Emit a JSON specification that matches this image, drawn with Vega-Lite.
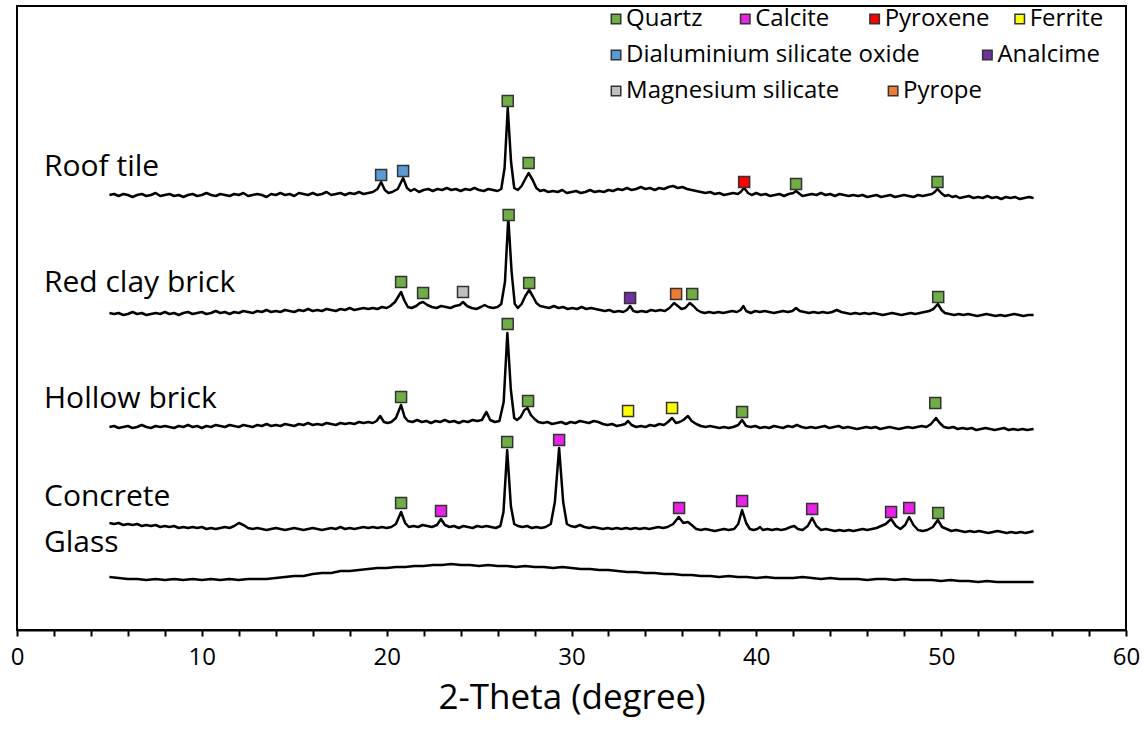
{
"$schema": "https://vega.github.io/schema/vega-lite/v6.json",
"width": 1109, "height": 624,
"autosize": {"type": "none"},
"padding": {"left": 17, "top": 6, "right": 19, "bottom": 112},
"background": "white",
"config": {"view": {"stroke": "black", "strokeWidth": 2}, "font": "Open Sans"},
"datasets": {
"roof": [
{"x":5,"y":435},{"x":5.25,"y":436},{"x":5.5,"y":434},{"x":5.75,"y":436},{"x":6,"y":435},{"x":6.25,"y":433},{"x":6.5,"y":435},{"x":6.75,"y":436},{"x":7,"y":434},{"x":7.25,"y":435},{"x":7.5,"y":437},{"x":7.75,"y":434},{"x":8,"y":435},{"x":8.25,"y":436},{"x":8.5,"y":434},{"x":8.75,"y":435},{"x":9,"y":433},{"x":9.25,"y":435},{"x":9.5,"y":436},{"x":9.75,"y":434},{"x":10,"y":435},{"x":10.25,"y":437},{"x":10.5,"y":435},{"x":10.75,"y":434},{"x":11,"y":436},{"x":11.25,"y":435},{"x":11.5,"y":434},{"x":11.75,"y":436},{"x":12,"y":435},{"x":12.25,"y":437},{"x":12.5,"y":434},{"x":12.75,"y":435},{"x":13,"y":436},{"x":13.25,"y":435},{"x":13.5,"y":433},{"x":13.75,"y":436},{"x":14,"y":435},{"x":14.25,"y":437},{"x":14.5,"y":435},{"x":14.75,"y":436},{"x":15,"y":434},{"x":15.25,"y":437},{"x":15.5,"y":436},{"x":15.75,"y":435},{"x":16,"y":437},{"x":16.25,"y":435},{"x":16.5,"y":436},{"x":16.75,"y":438},{"x":17,"y":435},{"x":17.25,"y":436},{"x":17.5,"y":437},{"x":17.75,"y":435},{"x":18,"y":437},{"x":18.25,"y":436},{"x":18.5,"y":438},{"x":18.75,"y":436},{"x":19,"y":437},{"x":19.25,"y":438},{"x":19.5,"y":441},{"x":19.7,"y":448},{"x":19.9,"y":440},{"x":20.1,"y":437},{"x":20.3,"y":438},{"x":20.6,"y":441},{"x":20.89,"y":452},{"x":21.1,"y":442},{"x":21.3,"y":439},{"x":21.5,"y":441},{"x":21.75,"y":438},{"x":22,"y":440},{"x":22.25,"y":441},{"x":22.5,"y":439},{"x":22.75,"y":441},{"x":23,"y":440},{"x":23.25,"y":442},{"x":23.5,"y":440},{"x":23.75,"y":441},{"x":24,"y":439},{"x":24.25,"y":441},{"x":24.5,"y":440},{"x":24.75,"y":442},{"x":25,"y":440},{"x":25.25,"y":439},{"x":25.5,"y":441},{"x":25.75,"y":440},{"x":26,"y":439},{"x":26.2,"y":441},{"x":26.38,"y":462},{"x":26.55,"y":522},{"x":26.73,"y":468},{"x":26.9,"y":442},{"x":27.1,"y":440},{"x":27.3,"y":444},{"x":27.5,"y":451},{"x":27.68,"y":457},{"x":27.9,"y":450},{"x":28.1,"y":442},{"x":28.3,"y":439},{"x":28.5,"y":440},{"x":28.75,"y":438},{"x":29,"y":439},{"x":29.25,"y":438},{"x":29.5,"y":440},{"x":29.75,"y":437},{"x":30,"y":438},{"x":30.25,"y":439},{"x":30.5,"y":437},{"x":30.75,"y":438},{"x":31,"y":440},{"x":31.25,"y":438},{"x":31.5,"y":439},{"x":31.75,"y":438},{"x":32,"y":440},{"x":32.25,"y":439},{"x":32.5,"y":441},{"x":32.75,"y":440},{"x":33,"y":442},{"x":33.25,"y":440},{"x":33.5,"y":441},{"x":33.75,"y":443},{"x":34,"y":441},{"x":34.25,"y":442},{"x":34.5,"y":440},{"x":34.75,"y":442},{"x":35,"y":441},{"x":35.25,"y":443},{"x":35.5,"y":444},{"x":35.75,"y":442},{"x":36,"y":443},{"x":36.25,"y":441},{"x":36.5,"y":440},{"x":36.75,"y":439},{"x":37,"y":438},{"x":37.25,"y":437},{"x":37.5,"y":438},{"x":37.75,"y":436},{"x":38,"y":437},{"x":38.25,"y":435},{"x":38.5,"y":436},{"x":38.75,"y":437},{"x":39,"y":436},{"x":39.15,"y":438},{"x":39.34,"y":442},{"x":39.55,"y":437},{"x":39.75,"y":435},{"x":40,"y":437},{"x":40.25,"y":435},{"x":40.5,"y":436},{"x":40.75,"y":434},{"x":41,"y":435},{"x":41.25,"y":436},{"x":41.5,"y":434},{"x":41.75,"y":436},{"x":42,"y":437},{"x":42.15,"y":439},{"x":42.35,"y":436},{"x":42.5,"y":434},{"x":42.75,"y":435},{"x":43,"y":436},{"x":43.25,"y":435},{"x":43.5,"y":437},{"x":43.75,"y":435},{"x":44,"y":436},{"x":44.25,"y":434},{"x":44.5,"y":436},{"x":44.75,"y":435},{"x":45,"y":434},{"x":45.25,"y":435},{"x":45.5,"y":434},{"x":45.75,"y":435},{"x":46,"y":433},{"x":46.25,"y":434},{"x":46.5,"y":435},{"x":46.75,"y":433},{"x":47,"y":434},{"x":47.25,"y":435},{"x":47.5,"y":433},{"x":47.75,"y":434},{"x":48,"y":435},{"x":48.25,"y":434},{"x":48.5,"y":433},{"x":48.75,"y":435},{"x":49,"y":434},{"x":49.25,"y":435},{"x":49.5,"y":436},{"x":49.65,"y":438},{"x":49.8,"y":441},{"x":50,"y":437},{"x":50.2,"y":434},{"x":50.4,"y":435},{"x":50.6,"y":433},{"x":50.8,"y":434},{"x":51,"y":432},{"x":51.25,"y":433},{"x":51.5,"y":434},{"x":51.75,"y":432},{"x":52,"y":433},{"x":52.25,"y":432},{"x":52.5,"y":434},{"x":52.75,"y":432},{"x":53,"y":433},{"x":53.25,"y":431},{"x":53.5,"y":433},{"x":53.75,"y":432},{"x":54,"y":433},{"x":54.25,"y":431},{"x":54.5,"y":432},{"x":54.75,"y":433},{"x":55,"y":432}
],
"red": [
{"x":5,"y":317},{"x":5.25,"y":316},{"x":5.5,"y":317},{"x":5.75,"y":315},{"x":6,"y":316},{"x":6.25,"y":318},{"x":6.5,"y":316},{"x":6.75,"y":317},{"x":7,"y":315},{"x":7.25,"y":316},{"x":7.5,"y":317},{"x":7.75,"y":316},{"x":8,"y":318},{"x":8.25,"y":316},{"x":8.5,"y":317},{"x":8.75,"y":315},{"x":9,"y":317},{"x":9.25,"y":318},{"x":9.5,"y":316},{"x":9.75,"y":317},{"x":10,"y":318},{"x":10.25,"y":316},{"x":10.5,"y":317},{"x":10.75,"y":319},{"x":11,"y":317},{"x":11.25,"y":318},{"x":11.5,"y":316},{"x":11.75,"y":318},{"x":12,"y":317},{"x":12.25,"y":319},{"x":12.5,"y":318},{"x":12.75,"y":317},{"x":13,"y":319},{"x":13.25,"y":318},{"x":13.5,"y":320},{"x":13.75,"y":318},{"x":14,"y":319},{"x":14.25,"y":318},{"x":14.5,"y":320},{"x":14.75,"y":319},{"x":15,"y":318},{"x":15.25,"y":320},{"x":15.5,"y":319},{"x":15.75,"y":321},{"x":16,"y":319},{"x":16.25,"y":320},{"x":16.5,"y":319},{"x":16.75,"y":321},{"x":17,"y":320},{"x":17.25,"y":319},{"x":17.5,"y":321},{"x":17.75,"y":320},{"x":18,"y":322},{"x":18.25,"y":320},{"x":18.5,"y":321},{"x":18.75,"y":322},{"x":19,"y":321},{"x":19.25,"y":322},{"x":19.5,"y":321},{"x":19.75,"y":323},{"x":20,"y":322},{"x":20.2,"y":324},{"x":20.45,"y":328},{"x":20.78,"y":338},{"x":20.97,"y":329},{"x":21.15,"y":323},{"x":21.35,"y":322},{"x":21.6,"y":324},{"x":21.8,"y":327},{"x":21.97,"y":328},{"x":22.2,"y":325},{"x":22.45,"y":323},{"x":22.7,"y":322},{"x":22.95,"y":324},{"x":23.2,"y":323},{"x":23.45,"y":322},{"x":23.7,"y":324},{"x":23.95,"y":325},{"x":24.13,"y":328},{"x":24.35,"y":324},{"x":24.6,"y":322},{"x":24.85,"y":321},{"x":25.1,"y":323},{"x":25.3,"y":325},{"x":25.5,"y":323},{"x":25.75,"y":322},{"x":26,"y":323},{"x":26.2,"y":326},{"x":26.4,"y":348},{"x":26.58,"y":412},{"x":26.76,"y":358},{"x":26.93,"y":326},{"x":27.1,"y":322},{"x":27.3,"y":326},{"x":27.5,"y":334},{"x":27.71,"y":340},{"x":27.9,"y":334},{"x":28.1,"y":327},{"x":28.3,"y":324},{"x":28.55,"y":323},{"x":28.8,"y":322},{"x":29.05,"y":324},{"x":29.3,"y":322},{"x":29.55,"y":323},{"x":29.8,"y":321},{"x":30.05,"y":322},{"x":30.3,"y":321},{"x":30.55,"y":323},{"x":30.8,"y":321},{"x":31.05,"y":322},{"x":31.3,"y":321},{"x":31.55,"y":320},{"x":31.8,"y":319},{"x":32.05,"y":320},{"x":32.3,"y":318},{"x":32.55,"y":319},{"x":32.8,"y":318},{"x":33,"y":320},{"x":33.17,"y":324},{"x":33.35,"y":319},{"x":33.55,"y":318},{"x":33.8,"y":319},{"x":34.05,"y":318},{"x":34.3,"y":320},{"x":34.55,"y":319},{"x":34.8,"y":320},{"x":35.05,"y":319},{"x":35.3,"y":322},{"x":35.55,"y":327},{"x":35.75,"y":324},{"x":35.95,"y":321},{"x":36.15,"y":322},{"x":36.4,"y":327},{"x":36.6,"y":324},{"x":36.8,"y":320},{"x":37,"y":318},{"x":37.2,"y":317},{"x":37.45,"y":318},{"x":37.7,"y":317},{"x":37.95,"y":318},{"x":38.2,"y":317},{"x":38.45,"y":318},{"x":38.7,"y":319},{"x":38.95,"y":318},{"x":39.15,"y":320},{"x":39.3,"y":324},{"x":39.45,"y":319},{"x":39.7,"y":317},{"x":39.95,"y":319},{"x":40.2,"y":318},{"x":40.45,"y":319},{"x":40.7,"y":318},{"x":40.95,"y":317},{"x":41.2,"y":318},{"x":41.45,"y":319},{"x":41.7,"y":318},{"x":41.95,"y":319},{"x":42.15,"y":322},{"x":42.35,"y":319},{"x":42.6,"y":318},{"x":42.85,"y":317},{"x":43.1,"y":318},{"x":43.35,"y":317},{"x":43.6,"y":318},{"x":43.85,"y":317},{"x":44.1,"y":318},{"x":44.35,"y":320},{"x":44.6,"y":318},{"x":44.85,"y":317},{"x":45.1,"y":316},{"x":45.35,"y":317},{"x":45.6,"y":316},{"x":45.85,"y":317},{"x":46.1,"y":316},{"x":46.35,"y":317},{"x":46.6,"y":316},{"x":46.85,"y":315},{"x":47.1,"y":316},{"x":47.35,"y":317},{"x":47.6,"y":316},{"x":47.85,"y":315},{"x":48.1,"y":316},{"x":48.35,"y":317},{"x":48.6,"y":316},{"x":48.85,"y":317},{"x":49.1,"y":318},{"x":49.35,"y":319},{"x":49.58,"y":321},{"x":49.82,"y":326},{"x":50.02,"y":320},{"x":50.2,"y":317},{"x":50.45,"y":316},{"x":50.7,"y":315},{"x":50.95,"y":316},{"x":51.2,"y":315},{"x":51.45,"y":316},{"x":51.7,"y":315},{"x":51.95,"y":314},{"x":52.2,"y":315},{"x":52.45,"y":316},{"x":52.7,"y":315},{"x":52.95,"y":314},{"x":53.2,"y":315},{"x":53.45,"y":314},{"x":53.7,"y":315},{"x":53.95,"y":316},{"x":54.2,"y":315},{"x":54.45,"y":314},{"x":54.7,"y":315},{"x":55,"y":315}
],
"hollow": [
{"x":5,"y":203},{"x":5.25,"y":204},{"x":5.5,"y":202},{"x":5.75,"y":203},{"x":6,"y":204},{"x":6.25,"y":202},{"x":6.5,"y":203},{"x":6.75,"y":205},{"x":7,"y":203},{"x":7.25,"y":202},{"x":7.5,"y":204},{"x":7.75,"y":203},{"x":8,"y":204},{"x":8.25,"y":203},{"x":8.5,"y":202},{"x":8.75,"y":204},{"x":9,"y":203},{"x":9.25,"y":205},{"x":9.5,"y":203},{"x":9.75,"y":204},{"x":10,"y":202},{"x":10.25,"y":204},{"x":10.5,"y":203},{"x":10.75,"y":205},{"x":11,"y":204},{"x":11.25,"y":203},{"x":11.5,"y":205},{"x":11.75,"y":204},{"x":12,"y":203},{"x":12.25,"y":205},{"x":12.5,"y":204},{"x":12.75,"y":203},{"x":13,"y":205},{"x":13.25,"y":204},{"x":13.5,"y":206},{"x":13.75,"y":204},{"x":14,"y":205},{"x":14.25,"y":204},{"x":14.5,"y":206},{"x":14.75,"y":205},{"x":15,"y":204},{"x":15.25,"y":206},{"x":15.5,"y":205},{"x":15.75,"y":207},{"x":16,"y":205},{"x":16.25,"y":206},{"x":16.5,"y":205},{"x":16.75,"y":207},{"x":17,"y":206},{"x":17.25,"y":205},{"x":17.5,"y":207},{"x":17.75,"y":206},{"x":18,"y":207},{"x":18.25,"y":206},{"x":18.5,"y":208},{"x":18.75,"y":207},{"x":19,"y":208},{"x":19.25,"y":207},{"x":19.45,"y":209},{"x":19.65,"y":214},{"x":19.85,"y":208},{"x":20.05,"y":207},{"x":20.25,"y":208},{"x":20.5,"y":212},{"x":20.78,"y":225},{"x":20.97,"y":213},{"x":21.15,"y":209},{"x":21.4,"y":208},{"x":21.65,"y":210},{"x":21.9,"y":208},{"x":22.15,"y":209},{"x":22.4,"y":207},{"x":22.65,"y":209},{"x":22.9,"y":208},{"x":23.15,"y":210},{"x":23.4,"y":208},{"x":23.65,"y":209},{"x":23.9,"y":207},{"x":24.15,"y":209},{"x":24.4,"y":208},{"x":24.65,"y":210},{"x":24.9,"y":209},{"x":25.15,"y":210},{"x":25.4,"y":218},{"x":25.6,"y":210},{"x":25.85,"y":208},{"x":26.1,"y":209},{"x":26.33,"y":228},{"x":26.53,"y":297},{"x":26.72,"y":240},{"x":26.9,"y":212},{"x":27.05,"y":210},{"x":27.25,"y":213},{"x":27.45,"y":220},{"x":27.62,"y":222},{"x":27.8,"y":215},{"x":28,"y":211},{"x":28.2,"y":208},{"x":28.45,"y":207},{"x":28.7,"y":208},{"x":28.95,"y":206},{"x":29.2,"y":207},{"x":29.45,"y":208},{"x":29.7,"y":206},{"x":29.95,"y":208},{"x":30.2,"y":207},{"x":30.45,"y":209},{"x":30.7,"y":208},{"x":30.95,"y":207},{"x":31.2,"y":209},{"x":31.45,"y":208},{"x":31.7,"y":206},{"x":31.95,"y":205},{"x":32.2,"y":206},{"x":32.45,"y":204},{"x":32.7,"y":205},{"x":32.9,"y":206},{"x":33.06,"y":209},{"x":33.25,"y":205},{"x":33.5,"y":203},{"x":33.75,"y":204},{"x":34,"y":203},{"x":34.25,"y":205},{"x":34.5,"y":204},{"x":34.75,"y":206},{"x":35,"y":205},{"x":35.22,"y":208},{"x":35.44,"y":212},{"x":35.65,"y":207},{"x":35.85,"y":208},{"x":36.05,"y":210},{"x":36.3,"y":214},{"x":36.5,"y":209},{"x":36.75,"y":206},{"x":37,"y":204},{"x":37.25,"y":203},{"x":37.5,"y":204},{"x":37.75,"y":203},{"x":38,"y":202},{"x":38.25,"y":203},{"x":38.5,"y":202},{"x":38.75,"y":203},{"x":39.02,"y":205},{"x":39.23,"y":210},{"x":39.45,"y":204},{"x":39.7,"y":203},{"x":39.95,"y":204},{"x":40.2,"y":202},{"x":40.45,"y":203},{"x":40.7,"y":202},{"x":40.95,"y":204},{"x":41.2,"y":203},{"x":41.45,"y":202},{"x":41.7,"y":204},{"x":41.95,"y":203},{"x":42.2,"y":205},{"x":42.45,"y":203},{"x":42.7,"y":202},{"x":42.95,"y":203},{"x":43.2,"y":202},{"x":43.45,"y":203},{"x":43.7,"y":204},{"x":43.95,"y":202},{"x":44.2,"y":203},{"x":44.45,"y":204},{"x":44.7,"y":202},{"x":44.95,"y":203},{"x":45.2,"y":202},{"x":45.45,"y":201},{"x":45.7,"y":202},{"x":45.95,"y":203},{"x":46.2,"y":202},{"x":46.45,"y":203},{"x":46.7,"y":201},{"x":46.95,"y":202},{"x":47.2,"y":203},{"x":47.45,"y":202},{"x":47.7,"y":201},{"x":47.95,"y":202},{"x":48.2,"y":203},{"x":48.45,"y":202},{"x":48.7,"y":203},{"x":48.95,"y":204},{"x":49.2,"y":203},{"x":49.45,"y":206},{"x":49.72,"y":212},{"x":49.92,"y":207},{"x":50.15,"y":203},{"x":50.4,"y":202},{"x":50.65,"y":203},{"x":50.9,"y":201},{"x":51.15,"y":202},{"x":51.4,"y":201},{"x":51.65,"y":202},{"x":51.9,"y":200},{"x":52.15,"y":201},{"x":52.4,"y":202},{"x":52.65,"y":201},{"x":52.9,"y":200},{"x":53.15,"y":201},{"x":53.4,"y":202},{"x":53.65,"y":200},{"x":53.9,"y":201},{"x":54.15,"y":200},{"x":54.4,"y":201},{"x":54.65,"y":200},{"x":55,"y":201}
],
"concrete": [
{"x":5,"y":107},{"x":5.25,"y":106},{"x":5.5,"y":107},{"x":5.75,"y":105},{"x":6,"y":106},{"x":6.25,"y":105},{"x":6.5,"y":106},{"x":6.75,"y":104},{"x":7,"y":105},{"x":7.25,"y":104},{"x":7.5,"y":105},{"x":7.75,"y":103},{"x":8,"y":104},{"x":8.25,"y":103},{"x":8.5,"y":104},{"x":8.75,"y":102},{"x":9,"y":103},{"x":9.25,"y":102},{"x":9.5,"y":103},{"x":9.75,"y":102},{"x":10,"y":103},{"x":10.25,"y":101},{"x":10.5,"y":102},{"x":10.75,"y":101},{"x":11,"y":102},{"x":11.25,"y":103},{"x":11.5,"y":102},{"x":11.75,"y":104},{"x":12,"y":107},{"x":12.25,"y":105},{"x":12.5,"y":102},{"x":12.75,"y":101},{"x":13,"y":102},{"x":13.25,"y":101},{"x":13.5,"y":100},{"x":13.75,"y":101},{"x":14,"y":102},{"x":14.25,"y":101},{"x":14.5,"y":100},{"x":14.75,"y":101},{"x":15,"y":102},{"x":15.25,"y":101},{"x":15.5,"y":100},{"x":15.75,"y":101},{"x":16,"y":102},{"x":16.25,"y":101},{"x":16.5,"y":100},{"x":16.75,"y":101},{"x":17,"y":102},{"x":17.25,"y":101},{"x":17.5,"y":103},{"x":17.75,"y":101},{"x":18,"y":102},{"x":18.25,"y":101},{"x":18.5,"y":102},{"x":18.75,"y":103},{"x":19,"y":102},{"x":19.25,"y":103},{"x":19.5,"y":102},{"x":19.75,"y":103},{"x":20,"y":102},{"x":20.25,"y":103},{"x":20.5,"y":106},{"x":20.78,"y":118},{"x":21,"y":107},{"x":21.2,"y":103},{"x":21.45,"y":104},{"x":21.7,"y":103},{"x":21.95,"y":105},{"x":22.2,"y":104},{"x":22.45,"y":103},{"x":22.72,"y":105},{"x":22.94,"y":111},{"x":23.15,"y":105},{"x":23.4,"y":103},{"x":23.65,"y":104},{"x":23.9,"y":102},{"x":24.15,"y":104},{"x":24.4,"y":103},{"x":24.65,"y":102},{"x":24.9,"y":104},{"x":25.15,"y":103},{"x":25.4,"y":104},{"x":25.65,"y":103},{"x":25.9,"y":102},{"x":26.15,"y":104},{"x":26.32,"y":118},{"x":26.52,"y":180},{"x":26.72,"y":124},{"x":26.9,"y":106},{"x":27.1,"y":104},{"x":27.35,"y":103},{"x":27.6,"y":104},{"x":27.85,"y":102},{"x":28.1,"y":103},{"x":28.35,"y":102},{"x":28.6,"y":103},{"x":28.88,"y":106},{"x":29.1,"y":128},{"x":29.33,"y":182},{"x":29.55,"y":128},{"x":29.75,"y":106},{"x":29.95,"y":104},{"x":30.2,"y":103},{"x":30.45,"y":105},{"x":30.7,"y":103},{"x":30.95,"y":102},{"x":31.2,"y":103},{"x":31.45,"y":102},{"x":31.7,"y":101},{"x":31.95,"y":102},{"x":32.2,"y":101},{"x":32.45,"y":102},{"x":32.7,"y":101},{"x":32.95,"y":102},{"x":33.2,"y":101},{"x":33.45,"y":102},{"x":33.7,"y":101},{"x":33.95,"y":102},{"x":34.2,"y":101},{"x":34.45,"y":102},{"x":34.7,"y":103},{"x":34.95,"y":102},{"x":35.2,"y":103},{"x":35.5,"y":106},{"x":35.8,"y":113},{"x":36.05,"y":107},{"x":36.3,"y":108},{"x":36.5,"y":105},{"x":36.75,"y":101},{"x":37,"y":100},{"x":37.25,"y":101},{"x":37.5,"y":100},{"x":37.75,"y":99},{"x":38,"y":100},{"x":38.25,"y":101},{"x":38.5,"y":100},{"x":38.8,"y":101},{"x":39.02,"y":106},{"x":39.23,"y":120},{"x":39.45,"y":107},{"x":39.65,"y":101},{"x":39.85,"y":100},{"x":40.05,"y":101},{"x":40.2,"y":103},{"x":40.35,"y":100},{"x":40.6,"y":101},{"x":40.85,"y":100},{"x":41.1,"y":101},{"x":41.35,"y":100},{"x":41.6,"y":101},{"x":41.85,"y":103},{"x":42.05,"y":104},{"x":42.25,"y":101},{"x":42.5,"y":100},{"x":42.78,"y":104},{"x":43.02,"y":112},{"x":43.25,"y":104},{"x":43.5,"y":100},{"x":43.75,"y":101},{"x":44,"y":100},{"x":44.25,"y":99},{"x":44.5,"y":100},{"x":44.75,"y":99},{"x":45,"y":100},{"x":45.25,"y":99},{"x":45.5,"y":100},{"x":45.75,"y":101},{"x":46,"y":100},{"x":46.25,"y":101},{"x":46.5,"y":102},{"x":46.75,"y":104},{"x":47,"y":106},{"x":47.29,"y":111},{"x":47.55,"y":104},{"x":47.8,"y":101},{"x":48.05,"y":105},{"x":48.27,"y":113},{"x":48.5,"y":105},{"x":48.75,"y":100},{"x":49,"y":99},{"x":49.25,"y":100},{"x":49.55,"y":103},{"x":49.82,"y":110},{"x":50.05,"y":103},{"x":50.3,"y":101},{"x":50.55,"y":99},{"x":50.8,"y":100},{"x":51.05,"y":99},{"x":51.3,"y":98},{"x":51.55,"y":99},{"x":51.8,"y":98},{"x":52.05,"y":99},{"x":52.3,"y":98},{"x":52.55,"y":97},{"x":52.8,"y":98},{"x":53.05,"y":99},{"x":53.3,"y":98},{"x":53.55,"y":97},{"x":53.8,"y":98},{"x":54.05,"y":97},{"x":54.3,"y":98},{"x":54.55,"y":97},{"x":54.8,"y":98},{"x":55,"y":99}
],
"glass": [
{"x":5,"y":53},{"x":5.5,"y":52},{"x":6,"y":51},{"x":6.5,"y":51},{"x":7,"y":50},{"x":7.5,"y":51},{"x":8,"y":50},{"x":8.5,"y":51},{"x":9,"y":50},{"x":9.5,"y":51},{"x":10,"y":50},{"x":10.5,"y":51},{"x":11,"y":50},{"x":11.5,"y":51},{"x":12,"y":50},{"x":12.5,"y":51},{"x":13,"y":51},{"x":13.5,"y":51},{"x":14,"y":52},{"x":14.5,"y":53},{"x":15,"y":54},{"x":15.5,"y":54},{"x":16,"y":56},{"x":16.5,"y":57},{"x":17,"y":57},{"x":17.5,"y":59},{"x":18,"y":59},{"x":18.5,"y":60},{"x":19,"y":61},{"x":19.5,"y":62},{"x":20,"y":62},{"x":20.5,"y":63},{"x":21,"y":63},{"x":21.5,"y":64},{"x":22,"y":64},{"x":22.5,"y":65},{"x":23,"y":65},{"x":23.5,"y":66},{"x":24,"y":65},{"x":24.5,"y":65},{"x":25,"y":64},{"x":25.5,"y":65},{"x":26,"y":64},{"x":26.5,"y":64},{"x":27,"y":63},{"x":27.5,"y":64},{"x":28,"y":63},{"x":28.5,"y":63},{"x":29,"y":62},{"x":29.5,"y":63},{"x":30,"y":62},{"x":30.5,"y":61},{"x":31,"y":61},{"x":31.5,"y":60},{"x":32,"y":60},{"x":32.5,"y":59},{"x":33,"y":58},{"x":33.5,"y":58},{"x":34,"y":57},{"x":34.5,"y":57},{"x":35,"y":56},{"x":35.5,"y":56},{"x":36,"y":55},{"x":36.5,"y":55},{"x":37,"y":54},{"x":37.5,"y":54},{"x":38,"y":53},{"x":38.5,"y":54},{"x":39,"y":53},{"x":39.5,"y":53},{"x":40,"y":52},{"x":40.5,"y":53},{"x":41,"y":52},{"x":41.5,"y":52},{"x":42,"y":52},{"x":42.5,"y":53},{"x":43,"y":52},{"x":43.5,"y":51},{"x":44,"y":52},{"x":44.5,"y":51},{"x":45,"y":51},{"x":45.5,"y":51},{"x":46,"y":50},{"x":46.5,"y":51},{"x":47,"y":51},{"x":47.5,"y":50},{"x":48,"y":51},{"x":48.5,"y":50},{"x":49,"y":50},{"x":49.5,"y":50},{"x":50,"y":49},{"x":50.5,"y":50},{"x":51,"y":49},{"x":51.5,"y":49},{"x":52,"y":48},{"x":52.5,"y":49},{"x":53,"y":48},{"x":53.5,"y":48},{"x":54,"y":48},{"x":54.5,"y":48},{"x":55,"y":48}
],
"markers": [
{"x":19.7,"y":455,"m":"Dialuminium silicate oxide"},{"x":20.89,"y":459,"m":"Dialuminium silicate oxide"},{"x":26.55,"y":529,"m":"Quartz"},{"x":27.68,"y":467,"m":"Quartz"},{"x":39.34,"y":448,"m":"Pyroxene"},{"x":42.15,"y":446,"m":"Quartz"},{"x":49.8,"y":448,"m":"Quartz"},
{"x":20.78,"y":348,"m":"Quartz"},{"x":21.97,"y":337,"m":"Quartz"},{"x":24.13,"y":338,"m":"Magnesium silicate"},{"x":26.6,"y":415,"m":"Quartz"},{"x":27.71,"y":347,"m":"Quartz"},{"x":33.17,"y":332,"m":"Analcime"},{"x":35.66,"y":336,"m":"Pyrope"},{"x":36.53,"y":336,"m":"Quartz"},{"x":49.84,"y":333,"m":"Quartz"},
{"x":20.78,"y":233,"m":"Quartz"},{"x":26.55,"y":306,"m":"Quartz"},{"x":27.65,"y":229,"m":"Quartz"},{"x":33.06,"y":219,"m":"Ferrite"},{"x":35.44,"y":222,"m":"Ferrite"},{"x":39.23,"y":218,"m":"Quartz"},{"x":49.68,"y":227,"m":"Quartz"},
{"x":20.78,"y":127,"m":"Quartz"},{"x":22.94,"y":119,"m":"Calcite"},{"x":26.52,"y":188,"m":"Quartz"},{"x":29.33,"y":190,"m":"Calcite"},{"x":35.82,"y":122,"m":"Calcite"},{"x":39.23,"y":129,"m":"Calcite"},{"x":43.02,"y":121,"m":"Calcite"},{"x":47.29,"y":118,"m":"Calcite"},{"x":48.27,"y":122,"m":"Calcite"},{"x":49.84,"y":117,"m":"Quartz"}
],
"labels": [
{"x":1.46,"y":463,"t":"Roof tile"},{"x":1.46,"y":347,"t":"Red clay brick"},{"x":1.46,"y":231,"t":"Hollow brick"},{"x":1.46,"y":133,"t":"Concrete"},{"x":1.46,"y":87,"t":"Glass"}
],
"legend": [
{"x":32.41,"y":611,"m":"Quartz"},{"x":39.4,"y":611,"m":"Calcite"},{"x":46.4,"y":611,"m":"Pyroxene"},{"x":54.25,"y":611,"m":"Ferrite"},
{"x":32.41,"y":575,"m":"Dialuminium silicate oxide"},{"x":52.5,"y":575,"m":"Analcime"},
{"x":32.41,"y":539,"m":"Magnesium silicate"},{"x":47.4,"y":539,"m":"Pyrope"}
]
},
"encoding": {
"x": {"field": "x", "type": "quantitative", "scale": {"domain": [0, 60], "nice": false, "zero": false},
 "axis": {"title": "2-Theta (degree)", "values": [0,2,4,6,8,10,12,14,16,18,20,22,24,26,28,30,32,34,36,38,40,42,44,46,48,50,52,54,56,58,60],
  "labelExpr": "datum.value % 10 === 0 ? datum.label : ''", "labelOverlap": false, "labelFlush": false, "grid": false,
  "domainColor": "black", "domainWidth": 2, "tickColor": "black", "tickWidth": 2, "tickSize": 6,
  "labelFont": "Open Sans", "labelFontSize": 24, "labelColor": "black", "labelPadding": 9,
  "titleFont": "Open Sans", "titleFontSize": 35, "titleFontWeight": "normal", "titleColor": "black", "titlePadding": 11,
  "encode": {"ticks": {"update": {"y2": {"signal": "datum.value % 10 === 0 ? 8 : 5"}}}}}},
"y": {"field": "y", "type": "quantitative", "scale": {"domain": [0, 624], "nice": false, "zero": false}, "axis": null}
},
"layer": [
{"data": {"name": "roof"}, "mark": {"type": "line", "color": "black", "strokeWidth": 2.5, "strokeJoin": "round"}},
{"data": {"name": "red"}, "mark": {"type": "line", "color": "black", "strokeWidth": 2.5, "strokeJoin": "round"}},
{"data": {"name": "hollow"}, "mark": {"type": "line", "color": "black", "strokeWidth": 2.5, "strokeJoin": "round"}},
{"data": {"name": "concrete"}, "mark": {"type": "line", "color": "black", "strokeWidth": 2.5, "strokeJoin": "round"}},
{"data": {"name": "glass"}, "mark": {"type": "line", "color": "black", "strokeWidth": 2.5, "strokeJoin": "round"}},
{"data": {"name": "markers"}, "mark": {"type": "point", "shape": "square", "filled": true, "size": 121, "opacity": 1, "stroke": "#333333", "strokeWidth": 1.5},
 "encoding": {"color": {"field": "m", "type": "nominal", "legend": null,
  "scale": {"domain": ["Quartz","Calcite","Pyroxene","Ferrite","Dialuminium silicate oxide","Analcime","Magnesium silicate","Pyrope"],
   "range": ["#70AD47","#E623E6","#FF0000","#FFFF00","#5B9BD5","#7030A0","#BFBFBF","#ED7D31"]}}}},
{"data": {"name": "legend"}, "mark": {"type": "point", "shape": "square", "filled": true, "size": 90, "opacity": 1, "stroke": "#333333", "strokeWidth": 1.5},
 "encoding": {"color": {"field": "m", "type": "nominal", "legend": null}}},
{"data": {"name": "legend"}, "mark": {"type": "text", "align": "left", "baseline": "middle", "dx": 10, "font": "Open Sans", "fontSize": 24, "color": "black"},
 "encoding": {"text": {"field": "m"}}},
{"data": {"name": "labels"}, "mark": {"type": "text", "align": "left", "baseline": "middle", "font": "Open Sans", "fontSize": 30, "color": "black"},
 "encoding": {"text": {"field": "t"}}}
]
}
